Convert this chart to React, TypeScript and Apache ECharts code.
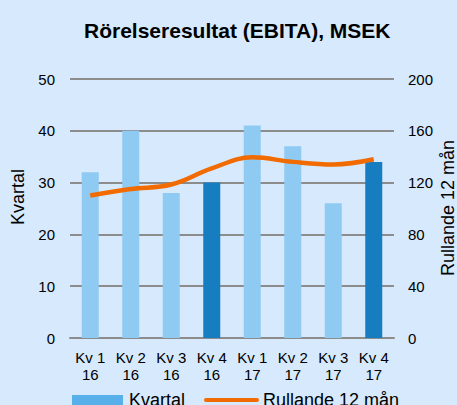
import React, { useEffect, useRef } from "react";
import * as echarts from "echarts";

const categories = ["Kv 1\n16", "Kv 2\n16", "Kv 3\n16", "Kv 4\n16", "Kv 1\n17", "Kv 2\n17", "Kv 3\n17", "Kv 4\n17"];
const kvartal = [32, 40, 28, 30, 41, 37, 26, 34];
const rullande = [110, 115, 118.5, 131, 139.5, 136, 134, 138];
const darkIdx = [3, 7];
const seriesNames = ["Kvartal", "Rullande 12 mån"];

export default function App() {
  const ref = useRef<HTMLDivElement>(null);
  useEffect(() => {
    const chart = echarts.init(ref.current!, null, { renderer: "svg" });
    const font = "Liberation Sans, Arial, sans-serif";
    const orange = "#f26b00";
    chart.setOption({
      animation: false,
      backgroundColor: "#d6e9fd",
      textStyle: { fontFamily: font },
      title: {
        text: "Rörelseresultat (EBITA), MSEK",
        left: 79,
        top: 15,
        textStyle: { fontFamily: font, fontSize: 21, fontWeight: "bold", color: "#000" },
      },
      grid: { left: 70, right: 63, top: 79, bottom: 67 },
      xAxis: {
        type: "category",
        data: categories,
        axisTick: { show: false },
        axisLine: { lineStyle: { color: "#8c8c8c", width: 2 } },
        axisLabel: { color: "#000", fontSize: 15, lineHeight: 17, margin: 11, interval: 0 },
      },
      yAxis: [
        {
          type: "value",
          min: 0,
          max: 50,
          interval: 10,
          axisLabel: { color: "#000", fontSize: 15, margin: 15 },
          splitLine: { lineStyle: { color: "#8c8c8c", width: 2 } },
          axisLine: { show: false },
          axisTick: { show: false },
        },
        {
          type: "value",
          min: 0,
          max: 200,
          interval: 40,
          axisLabel: { color: "#000", fontSize: 15, margin: 14 },
          splitLine: { show: false },
          axisLine: { show: false },
          axisTick: { show: false },
        },
      ],
      graphic: [
        {
          type: "text",
          x: 18,
          y: 197,
          rotation: Math.PI / 2,
          style: { text: seriesNames[0], fontFamily: font, fontSize: 18, fill: "#000", align: "center", verticalAlign: "middle" },
        },
        {
          type: "text",
          x: 448,
          y: 208,
          rotation: Math.PI / 2,
          style: { text: seriesNames[1], fontFamily: font, fontSize: 18, fill: "#000", align: "center", verticalAlign: "middle" },
        },
        { type: "rect", shape: { x: 72, y: 395, width: 51, height: 12 }, style: { fill: "#57b0ea" } },
        {
          type: "text",
          x: 129,
          y: 400,
          style: { text: seriesNames[0], fontFamily: font, fontSize: 18, fill: "#000", align: "left", verticalAlign: "middle" },
        },
        {
          type: "line",
          shape: { x1: 206, y1: 400, x2: 257, y2: 400 },
          style: { stroke: orange, lineWidth: 4, lineCap: "round" },
        },
        {
          type: "text",
          x: 263,
          y: 400,
          style: { text: seriesNames[1], fontFamily: font, fontSize: 18, fill: "#000", align: "left", verticalAlign: "middle" },
        },
      ],
      series: [
        {
          name: seriesNames[0],
          type: "bar",
          barWidth: 17,
          data: kvartal.map((v, i) => ({
            value: v,
            itemStyle: { color: darkIdx.includes(i) ? "#167dc1" : "#8fcaf2" },
          })),
        },
        {
          name: seriesNames[1],
          type: "line",
          yAxisIndex: 1,
          smooth: 0.4,
          symbol: "none",
          data: rullande,
          lineStyle: { color: orange, width: 4.5 },
          itemStyle: { color: orange },
        },
      ],
    });
    return () => chart.dispose();
  }, []);
  return <div ref={ref} style={{ width: 457, height: 405, position: "absolute", left: 0, top: 0 }} />;
}
